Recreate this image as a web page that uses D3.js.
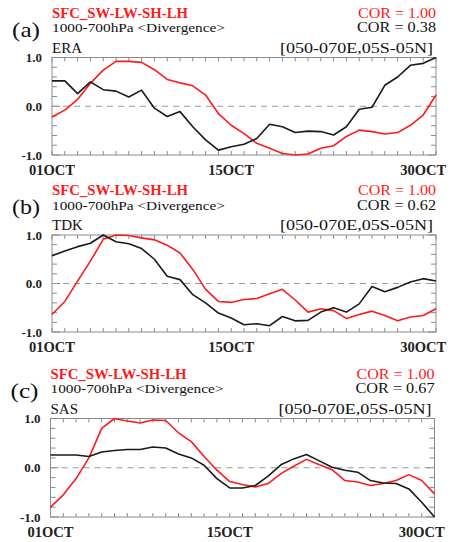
<!DOCTYPE html>
<html><head><meta charset="utf-8">
<script src="https://cdn.jsdelivr.net/npm/d3@7"></script>
<style>body{margin:0;background:#fff}svg{display:block}</style>
</head><body>
<script>
const days = d3.range(1, 32);
const xTickDays = [1, 15, 30];
const xTickLabels = ["01OCT", "15OCT", "30OCT"];
const yTickValues = [-1, 0, 1];
const yTickLabels = ["-1.0", "0.0", "1.0"];
const panelLetters = ["(a)", "(b)", "(c)"];
const datasetNames = ["ERA", "TDK", "SAS"];
const redCor = ["1.00", "1.00", "1.00"];
const blackCor = ["0.38", "0.62", "0.67"];

const eraRed = [-0.22,-0.08,0.14,0.47,0.74,0.92,0.92,0.90,0.75,0.55,0.48,0.42,0.23,-0.15,-0.39,-0.56,-0.76,-0.86,-0.97,-1.0,-0.98,-0.86,-0.81,-0.62,-0.49,-0.52,-0.57,-0.54,-0.39,-0.18,0.23];
const eraBlack = [0.52,0.52,0.26,0.50,0.34,0.31,0.19,0.33,-0.04,-0.21,-0.11,-0.42,-0.69,-0.90,-0.83,-0.78,-0.66,-0.37,-0.42,-0.54,-0.51,-0.52,-0.59,-0.42,-0.06,-0.02,0.43,0.60,0.84,0.88,1.0];
const tdkRed = [-0.64,-0.37,0.05,0.46,0.91,1.0,0.99,0.94,0.90,0.79,0.63,0.29,-0.12,-0.37,-0.39,-0.33,-0.31,-0.21,-0.12,-0.34,-0.59,-0.52,-0.56,-0.72,-0.64,-0.57,-0.66,-0.77,-0.69,-0.66,-0.52];
const tdkBlack = [0.57,0.67,0.76,0.83,1.0,0.86,0.82,0.72,0.50,0.15,0.08,-0.23,-0.40,-0.61,-0.71,-0.85,-0.83,-0.87,-0.68,-0.77,-0.76,-0.59,-0.50,-0.59,-0.42,-0.06,-0.17,-0.08,0.03,0.10,0.05];
const sasRed = [-0.80,-0.55,-0.22,0.20,0.80,1.0,0.95,0.91,0.97,0.96,0.71,0.53,0.23,-0.05,-0.28,-0.34,-0.39,-0.32,-0.12,0.03,0.17,0.06,-0.04,-0.26,-0.29,-0.36,-0.32,-0.26,-0.14,-0.26,-0.53];
const sasBlack = [0.26,0.26,0.26,0.23,0.32,0.35,0.37,0.37,0.42,0.40,0.28,0.20,0.05,-0.22,-0.41,-0.41,-0.36,-0.17,0.06,0.18,0.27,0.14,0.01,-0.05,-0.09,-0.26,-0.31,-0.32,-0.43,-0.70,-1.0];

const redSeries = [eraRed, tdkRed, sasRed];
const blackSeries = [eraBlack, tdkBlack, sasBlack];

const W = 454, H = 542;
const layout = [
  {left: 52, right: 436, top: 57.5, bottom: 155},
  {left: 52, right: 436, top: 235, bottom: 332},
  {left: 50.5, right: 434.5, top: 418.5, bottom: 517}
];
const serif = "'Liberation Serif','Times New Roman',serif";
const RED = "#ff1a1a", BLACK = "#1a1a1a", FRAME = "#8a8a8a";

const svg = d3.select("body").append("svg").attr("width", W).attr("height", H);

layout.forEach((L, i) => {
  const g = svg.append("g");
  const x = d3.scaleLinear().domain([1, 31]).range([L.left, L.right]);
  const y = d3.scaleLinear().domain([-1, 1]).range([L.bottom, L.top]);

  // ticks
  const xt = d3.range(1, 32);
  xt.forEach(d => {
    g.append("line").attr("x1", x(d)).attr("x2", x(d)).attr("y1", L.top).attr("y2", L.top + 4).attr("stroke", FRAME);
    g.append("line").attr("x1", x(d)).attr("x2", x(d)).attr("y1", L.bottom).attr("y2", L.bottom - 4).attr("stroke", FRAME);
  });
  d3.range(-1, 1.001, 0.2).forEach(v => {
    const len = Math.abs(v - Math.round(v)) < 1e-6 ? 8 : 5;
    g.append("line").attr("x1", L.left).attr("x2", L.left + len).attr("y1", y(v)).attr("y2", y(v)).attr("stroke", FRAME);
    g.append("line").attr("x1", L.right).attr("x2", L.right - len).attr("y1", y(v)).attr("y2", y(v)).attr("stroke", FRAME);
  });
  // zero line
  g.append("line").attr("x1", L.left).attr("x2", L.right).attr("y1", y(0)).attr("y2", y(0))
    .attr("stroke", "#999").attr("stroke-dasharray", "6,5");
  // frame
  g.append("rect").attr("x", L.left).attr("y", L.top).attr("width", L.right - L.left).attr("height", L.bottom - L.top)
    .attr("fill", "none").attr("stroke", FRAME).attr("stroke-width", 1);

  const line = d3.line().x((d, j) => x(days[j])).y(d => y(d));
  g.append("path").datum(redSeries[i]).attr("d", line).attr("fill", "none").attr("stroke", RED).attr("stroke-width", 1.6).attr("stroke-linejoin", "round");
  g.append("path").datum(blackSeries[i]).attr("d", line).attr("fill", "none").attr("stroke", BLACK).attr("stroke-width", 1.6).attr("stroke-linejoin", "round");

  // y labels
  yTickValues.forEach((v, k) => {
    g.append("text").attr("x", L.left - 10).attr("y", y(v) + 4.5).attr("text-anchor", "end")
      .attr("font-family", serif).attr("font-weight", "bold").attr("font-size", 13).attr("fill", "#222").text(yTickLabels[k]);
  });
  // x labels
  xTickDays.forEach((d, k) => {
    g.append("text").attr("x", x(d)).attr("y", L.bottom + 20).attr("text-anchor", "middle")
      .attr("font-family", serif).attr("font-weight", "bold").attr("font-size", 14.5).attr("fill", "#222").text(xTickLabels[k]);
  });
  // titles
  const t = (txt, xx, yy, size, color, anchor, len) => {
    const el = g.append("text").attr("x", xx).attr("y", yy).attr("font-family", serif).attr("font-size", size)
      .attr("fill", color).attr("text-anchor", anchor).text(txt);
    if (len) el.attr("textLength", len).attr("lengthAdjust", "spacingAndGlyphs");
    return el;
  };
  t("SFC_SW-LW-SH-LH", L.left, L.top - 40, 15, RED, "start", 136).attr("font-weight", "bold");
  t("1000-700hPa <Divergence>", L.left, L.top - 25.5, 13.5, "#111", "start", 173);
  t(datasetNames[i], L.left, L.top - 5, 15, "#111", "start", null);
  t("COR =  " + redCor[i], L.right, L.top - 40, 14.5, RED, "end", 78);
  t("COR =  " + blackCor[i], L.right, L.top - 25.5, 14.5, "#111", "end", 79);
  t("[050-070E,05S-05N]", L.right - 3, L.top - 5, 15, "#111", "end", 153);
  t(panelLetters[i], L.left - 40, L.top - 21, 21, "#111", "start", 28);
});
</script>
</body></html>
